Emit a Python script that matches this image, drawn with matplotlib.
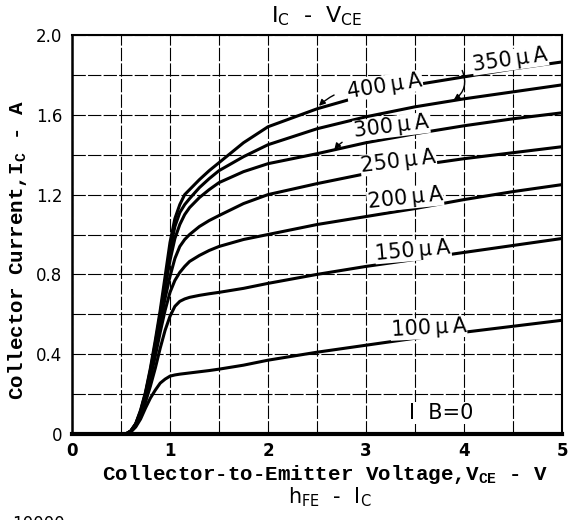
import matplotlib
matplotlib.use("Agg")
import matplotlib.pyplot as plt

# ---------------- data ----------------
V = [0.55, 0.60, 0.65, 0.70, 0.75, 0.80, 0.85, 0.90, 0.95, 1.00, 1.05, 1.10, 1.15,
     1.20, 1.30, 1.40, 1.50, 1.75, 2.00, 2.50, 3.00, 3.50, 4.00, 4.50, 5.00]

I_100 = [0, 0.010, 0.035, 0.075, 0.130, 0.180, 0.220, 0.255, 0.275, 0.290, 0.296, 0.300, 0.303,
         0.306, 0.312, 0.318, 0.325, 0.345, 0.370, 0.410, 0.445, 0.480, 0.510, 0.540, 0.570]
I_150 = [0, 0.012, 0.040, 0.090, 0.160, 0.240, 0.330, 0.430, 0.520, 0.590, 0.640, 0.665, 0.677,
         0.685, 0.695, 0.703, 0.710, 0.730, 0.755, 0.800, 0.840, 0.875, 0.910, 0.945, 0.980]
I_200 = [0, 0.013, 0.045, 0.100, 0.180, 0.280, 0.390, 0.510, 0.620, 0.710, 0.770, 0.810, 0.840,
         0.865, 0.895, 0.920, 0.940, 0.975, 1.000, 1.050, 1.090, 1.130, 1.175, 1.215, 1.250]
I_250 = [0, 0.014, 0.047, 0.105, 0.190, 0.300, 0.420, 0.550, 0.680, 0.790, 0.880, 0.940, 0.975,
         1.000, 1.040, 1.070, 1.095, 1.155, 1.200, 1.255, 1.305, 1.345, 1.380, 1.410, 1.440]
I_300 = [0, 0.015, 0.050, 0.110, 0.200, 0.310, 0.440, 0.580, 0.730, 0.870, 0.980, 1.050, 1.100,
         1.135, 1.185, 1.225, 1.260, 1.315, 1.355, 1.405, 1.460, 1.505, 1.545, 1.580, 1.610]
I_350 = [0, 0.015, 0.050, 0.115, 0.205, 0.320, 0.455, 0.600, 0.760, 0.920, 1.040, 1.110, 1.150,
         1.180, 1.235, 1.280, 1.320, 1.390, 1.450, 1.530, 1.590, 1.640, 1.680, 1.715, 1.750]
I_400 = [0, 0.016, 0.052, 0.120, 0.210, 0.330, 0.470, 0.620, 0.790, 0.960, 1.080, 1.150, 1.200,
         1.225, 1.275, 1.320, 1.360, 1.460, 1.540, 1.630, 1.700, 1.750, 1.790, 1.830, 1.865]

IB0_V = [0.0, 5.0]
IB0_I = [0.0, 0.0]

series = [I_100, I_150, I_200, I_250, I_300, I_350, I_400]
labels = ["100\u2009\u00b5\u2009A", "150\u2009\u00b5\u2009A", "200\u2009\u00b5\u2009A",
          "250\u2009\u00b5\u2009A", "300\u2009\u00b5\u2009A", "350\u2009\u00b5\u2009A",
          "400\u2009\u00b5\u2009A"]

x_ticks = [0, 1, 2, 3, 4, 5]
x_ticklabels = ["0", "1", "2", "3", "4", "5"]
y_ticks = [0, 0.4, 0.8, 1.2, 1.6, 2.0]
y_ticklabels = ["0", "0.4", "0.8", "1.2", "1.6", "2.0"]

# ---------------- layout ----------------
label_pos = [(3.64, 0.53, 3), (3.48, 0.92, 5), (3.40, 1.18, 6), (3.33, 1.365, 7),
             (3.26, 1.54, 7), (4.47, 1.875, 8), (3.19, 1.745, 9)]

W, H = 568, 520
fig = plt.figure(figsize=(W / 100, H / 100), dpi=100)
ax = fig.add_axes([72 / W, 86 / H, 490 / W, 399 / H])

ax.set_xlim(0, 5)
ax.set_ylim(0, 2)
ax.set_xticks(x_ticks)
ax.set_xticklabels(x_ticklabels, fontsize=12, fontweight="bold", family="DejaVu Sans")
ax.set_yticks(y_ticks)
ax.set_yticklabels(y_ticklabels, fontsize=12, family="DejaVu Sans")
ax.set_xticks([0.5 * k for k in range(11)], minor=True)
ax.set_yticks([0.2 * k for k in range(11)], minor=True)
ax.tick_params(which="both", length=0)
ax.tick_params(axis="x", pad=6)
ax.tick_params(axis="y", pad=7)
ax.grid(which="both", color="black", lw=0.8, linestyle=(0, (12, 2)))
ax.set_axisbelow(True)
for s in ax.spines.values():
    s.set_linewidth(1.5)
ax.spines["left"].set_linewidth(1.8)

for I in series:
    ax.plot(V, I, color="black", lw=2.2, solid_capstyle="round", zorder=3)
ax.plot(IB0_V, IB0_I, color="black", lw=3, zorder=3, clip_on=False)

for txt, (x, y, rot) in zip(labels, label_pos):
    ax.text(x, y, txt, fontsize=15, ha="center", va="center", rotation=rot,
            family="DejaVu Sans", zorder=4,
            bbox=dict(facecolor="white", edgecolor="none", pad=0.5))

ax.text(3.77, 0.105, "I  B=0", fontsize=15, ha="center", va="center",
        family="DejaVu Sans", zorder=4,
        bbox=dict(facecolor="white", edgecolor="none", pad=0.5))

arrow_kw = dict(arrowstyle="-|>", color="black", lw=1.0, mutation_scale=9)
ax.annotate("", xy=(2.50, 1.635), xytext=(2.70, 1.705),
            arrowprops=dict(**arrow_kw, connectionstyle="arc3,rad=0.1"), zorder=5)
ax.annotate("", xy=(2.66, 1.415), xytext=(2.78, 1.47),
            arrowprops=dict(**arrow_kw, connectionstyle="arc3,rad=0.1"), zorder=5)
ax.annotate("", xy=(3.87, 1.665), xytext=(3.97, 1.835),
            arrowprops=dict(**arrow_kw, connectionstyle="arc3,rad=-0.45"), zorder=5)

ax.set_xlabel("Collector-to-Emitter Voltage,V$_\\mathregular{CE}$ - V",
              fontsize=15, fontweight="bold", family="Liberation Mono",
              va="center")
ax.xaxis.set_label_coords((325 - 72) / 490, -(475 - 434) / 399)
ax.set_ylabel("Collector Current,I$_\\mathregular{C}$ - A",
              fontsize=15, fontweight="bold", family="Liberation Mono",
              va="center")
ax.yaxis.set_label_coords((18 - 72) / 490, (434 - 250) / 399)

fig.text(317 / W, 1 - 16 / H, "I$_\\mathregular{C}$  -  V$_\\mathregular{CE}$",
         fontsize=16, ha="center", va="center", family="DejaVu Sans")
fig.text(330 / W, 1 - 497 / H, "h$_\\mathregular{FE}$  -  I$_\\mathregular{C}$",
         fontsize=15, ha="center", va="center", family="DejaVu Sans")
fig.text(12 / W, 1 - 515 / H, "10000", fontsize=12, ha="left", va="top",
         family="DejaVu Sans")

fig.savefig("out.png", dpi=100)
